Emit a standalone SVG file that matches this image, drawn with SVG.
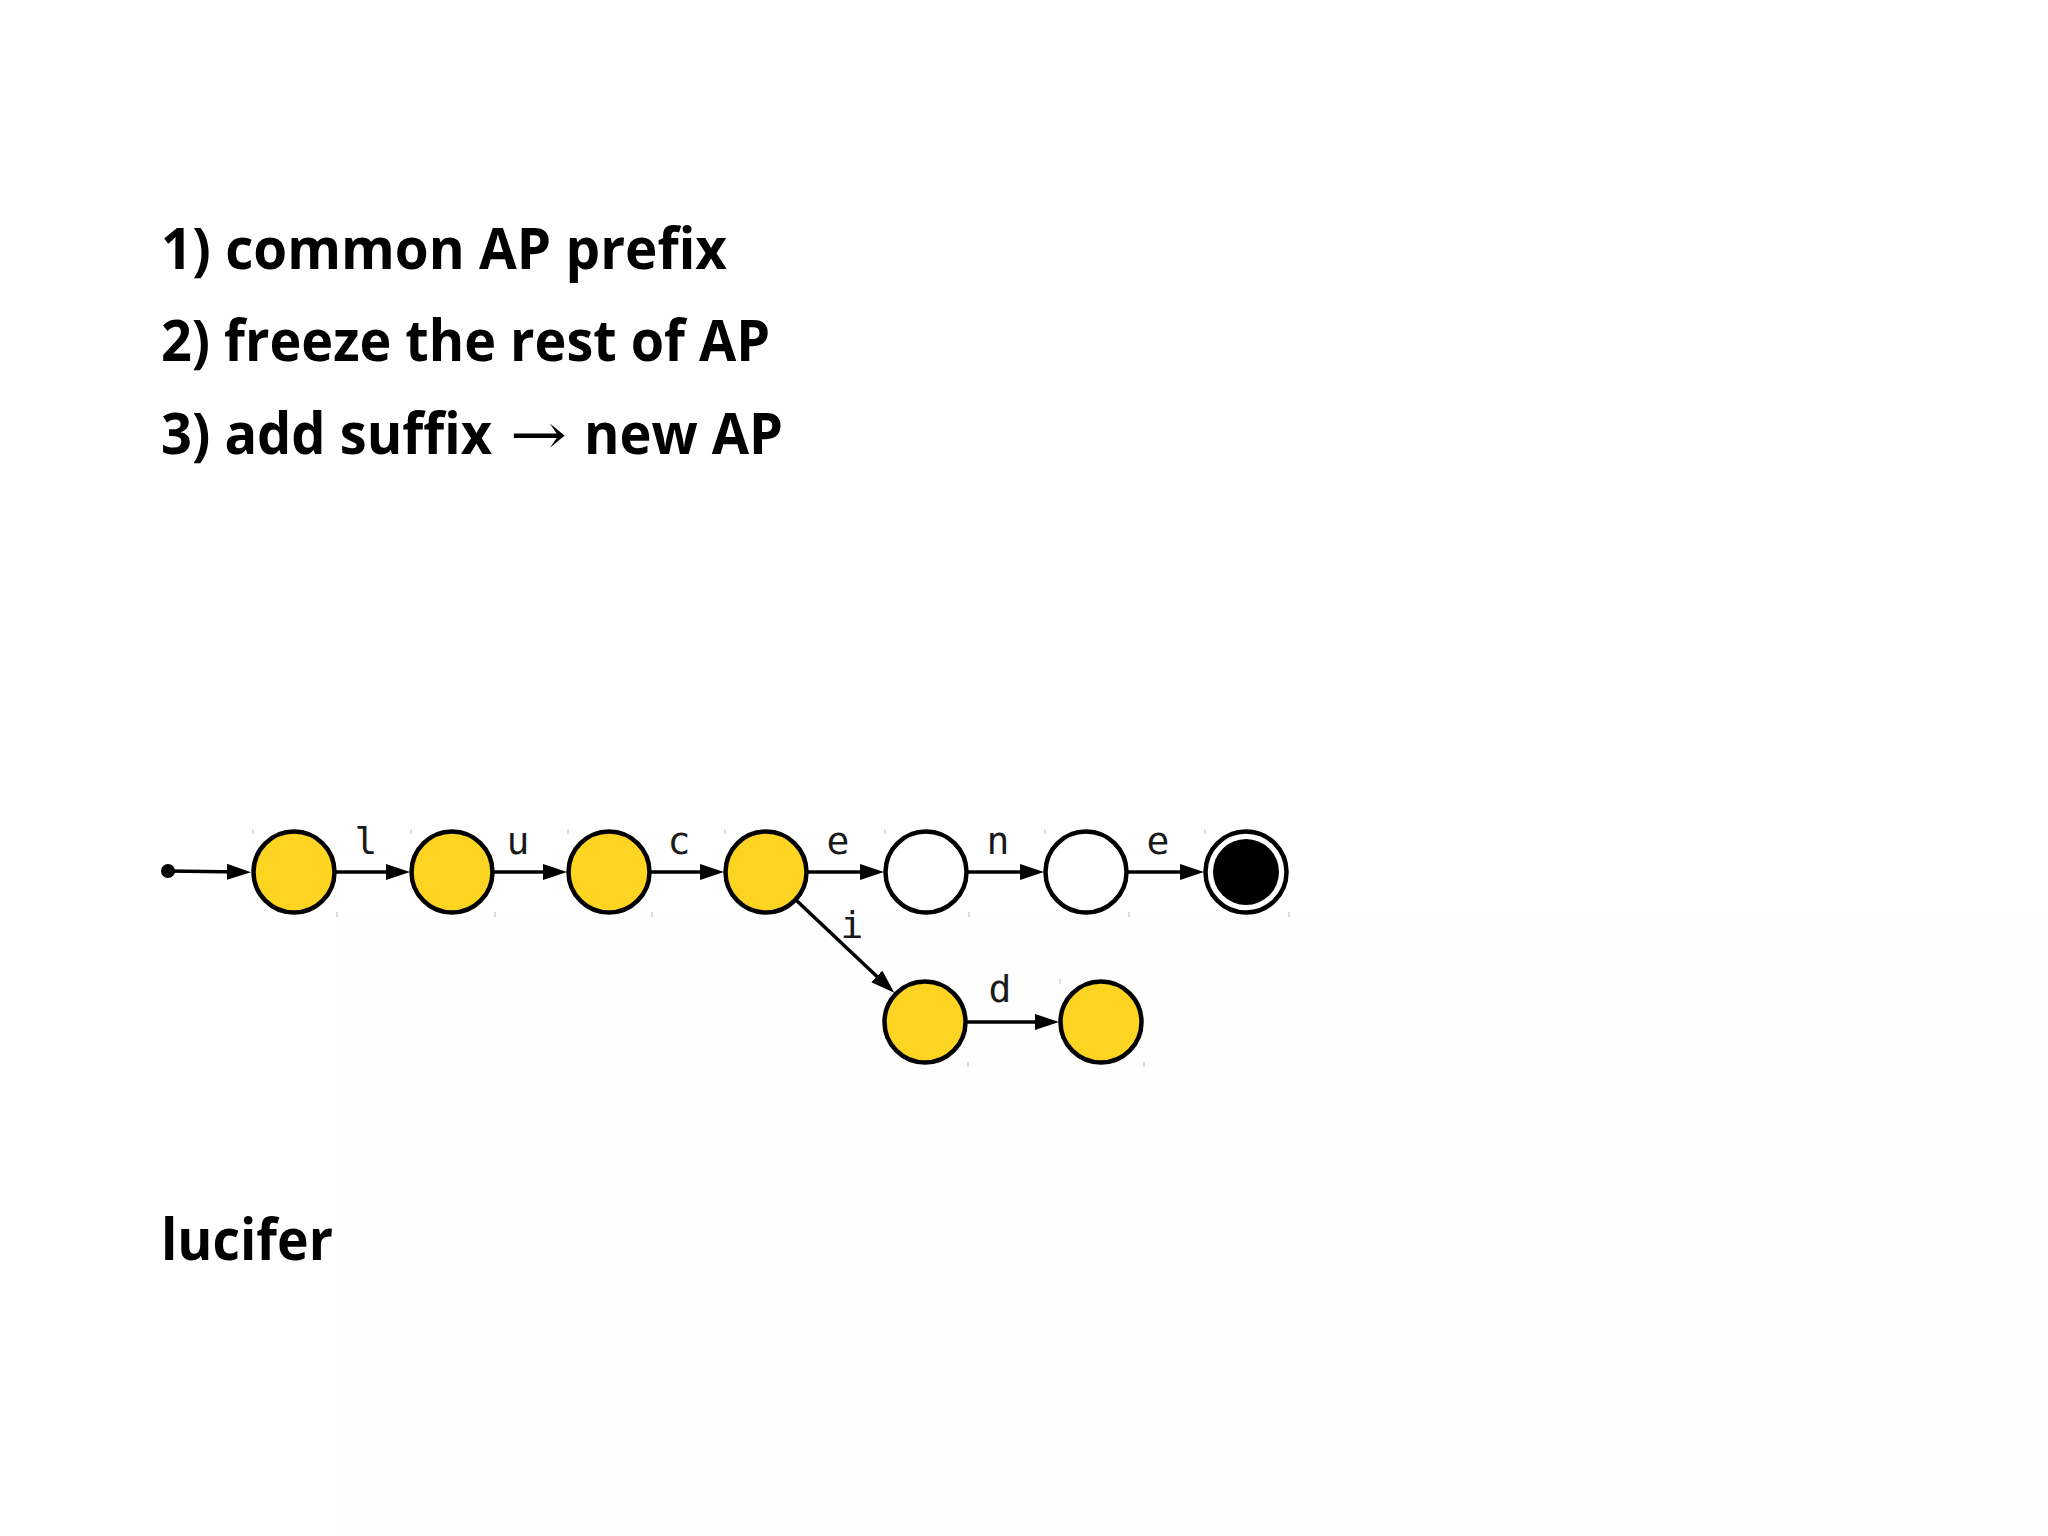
<svg xmlns="http://www.w3.org/2000/svg" width="2048" height="1536" viewBox="0 0 2048 1536">
  <defs>
    <style>
      .head { font-family: "Open Sans", "Liberation Sans", sans-serif; font-weight: 700; font-size: 57px; fill: #000; }
      .arr { font-family: "DejaVu Serif", "Liberation Serif", serif; font-weight: 400; font-size: 57px; fill: #000; }
      .lbl { font-family: "DejaVu Sans Mono", "Liberation Mono", monospace; font-size: 38px; fill: #1a1a1a; text-anchor: middle; }
      .st { stroke: #000; stroke-width: 4.5; }
      .acc { fill: #fdd422; }
      .plain { fill: #fff; }
      .edge { stroke: #000; stroke-width: 3.5; fill: none; marker-end: url(#ah); }
      .tick { stroke: #b8b8b8; stroke-width: 1; }
    </style>
    <marker id="ah" markerUnits="userSpaceOnUse" markerWidth="26" markerHeight="18" refX="14" refY="8" orient="auto">
      <path d="M0,0 L24,8 L0,16 z" fill="#000"/>
    </marker>
  </defs>

  <rect x="0" y="0" width="2048" height="1536" fill="#fff"/>
  <rect x="337" y="914" width="1711" height="622" fill="#fefefe"/>

  <g id="title">
    <text class="head" x="161" y="269" textLength="566" lengthAdjust="spacingAndGlyphs">1) common AP prefix</text>
    <text class="head" x="161" y="361" textLength="609" lengthAdjust="spacingAndGlyphs">2) freeze the rest of AP</text>
    <text class="head" x="161" y="454" font-size="55" textLength="331" lengthAdjust="spacingAndGlyphs">3) add suffix</text>
    <text class="arr" x="510" y="454" textLength="57" lengthAdjust="spacingAndGlyphs">→</text>
    <text class="head" x="584" y="454" textLength="199" lengthAdjust="spacingAndGlyphs">new AP</text>
  </g>

  <g id="word">
    <text class="head" x="161" y="1260" textLength="172" lengthAdjust="spacingAndGlyphs">lucifer</text>
  </g>

  <g id="ticks">
    <line class="tick" x1="253" y1="829" x2="253" y2="834"/>
    <line class="tick" x1="337" y1="912" x2="337" y2="917"/>
    <line class="tick" x1="411" y1="829" x2="411" y2="834"/>
    <line class="tick" x1="495" y1="912" x2="495" y2="917"/>
    <line class="tick" x1="568" y1="829" x2="568" y2="834"/>
    <line class="tick" x1="652" y1="912" x2="652" y2="917"/>
    <line class="tick" x1="725" y1="829" x2="725" y2="834"/>
    <line class="tick" x1="809" y1="912" x2="809" y2="917"/>
    <line class="tick" x1="885" y1="829" x2="885" y2="834"/>
    <line class="tick" x1="969" y1="912" x2="969" y2="917"/>
    <line class="tick" x1="1045" y1="829" x2="1045" y2="834"/>
    <line class="tick" x1="1129" y1="912" x2="1129" y2="917"/>
    <line class="tick" x1="1205" y1="829" x2="1205" y2="834"/>
    <line class="tick" x1="1289" y1="912" x2="1289" y2="917"/>
    <line class="tick" x1="884" y1="979" x2="884" y2="984"/>
    <line class="tick" x1="968" y1="1062" x2="968" y2="1067"/>
    <line class="tick" x1="1060" y1="979" x2="1060" y2="984"/>
    <line class="tick" x1="1144" y1="1062" x2="1144" y2="1067"/>
  </g>

  <g id="connectors">
    <circle cx="168" cy="871" r="7" fill="#000"/>
    <line class="edge" x1="168" y1="871" x2="241" y2="872"/>
    <line class="edge" x1="336" y1="872" x2="400" y2="872"/>
    <line class="edge" x1="494" y1="872" x2="557" y2="872"/>
    <line class="edge" x1="651" y1="872" x2="714" y2="872"/>
    <line class="edge" x1="808" y1="872" x2="874" y2="872"/>
    <line class="edge" x1="968" y1="872" x2="1034" y2="872"/>
    <line class="edge" x1="1128" y1="872" x2="1194" y2="872"/>
    <line class="edge" x1="796" y1="900" x2="887" y2="986"/>
    <line class="edge" x1="967" y1="1022" x2="1049" y2="1022"/>
    <text class="lbl" x="366" y="854">l</text>
    <text class="lbl" x="518" y="854">u</text>
    <text class="lbl" x="679" y="854">c</text>
    <text class="lbl" x="838" y="854">e</text>
    <text class="lbl" x="998" y="854">n</text>
    <text class="lbl" x="1158" y="854">e</text>
    <text class="lbl" x="852" y="938">i</text>
    <text class="lbl" x="1000" y="1002">d</text>
  </g>

  <g id="n1"><circle class="st acc" cx="294" cy="872" r="40.5"/></g>
  <g id="n2"><circle class="st acc" cx="452" cy="872" r="40.5"/></g>
  <g id="n3"><circle class="st acc" cx="609" cy="872" r="40.5"/></g>
  <g id="n4"><circle class="st acc" cx="766" cy="872" r="40.5"/></g>
  <g id="n5"><circle class="st plain" cx="926" cy="872" r="40.5"/></g>
  <g id="n6"><circle class="st plain" cx="1086" cy="872" r="40.5"/></g>
  <g id="n7">
    <circle class="st plain" cx="1246" cy="872" r="40.5"/>
    <circle cx="1246" cy="872" r="33" fill="#000"/>
  </g>
  <g id="n8"><circle class="st acc" cx="925" cy="1022" r="40.5"/></g>
  <g id="n9"><circle class="st acc" cx="1101" cy="1022" r="40.5"/></g>
</svg>
